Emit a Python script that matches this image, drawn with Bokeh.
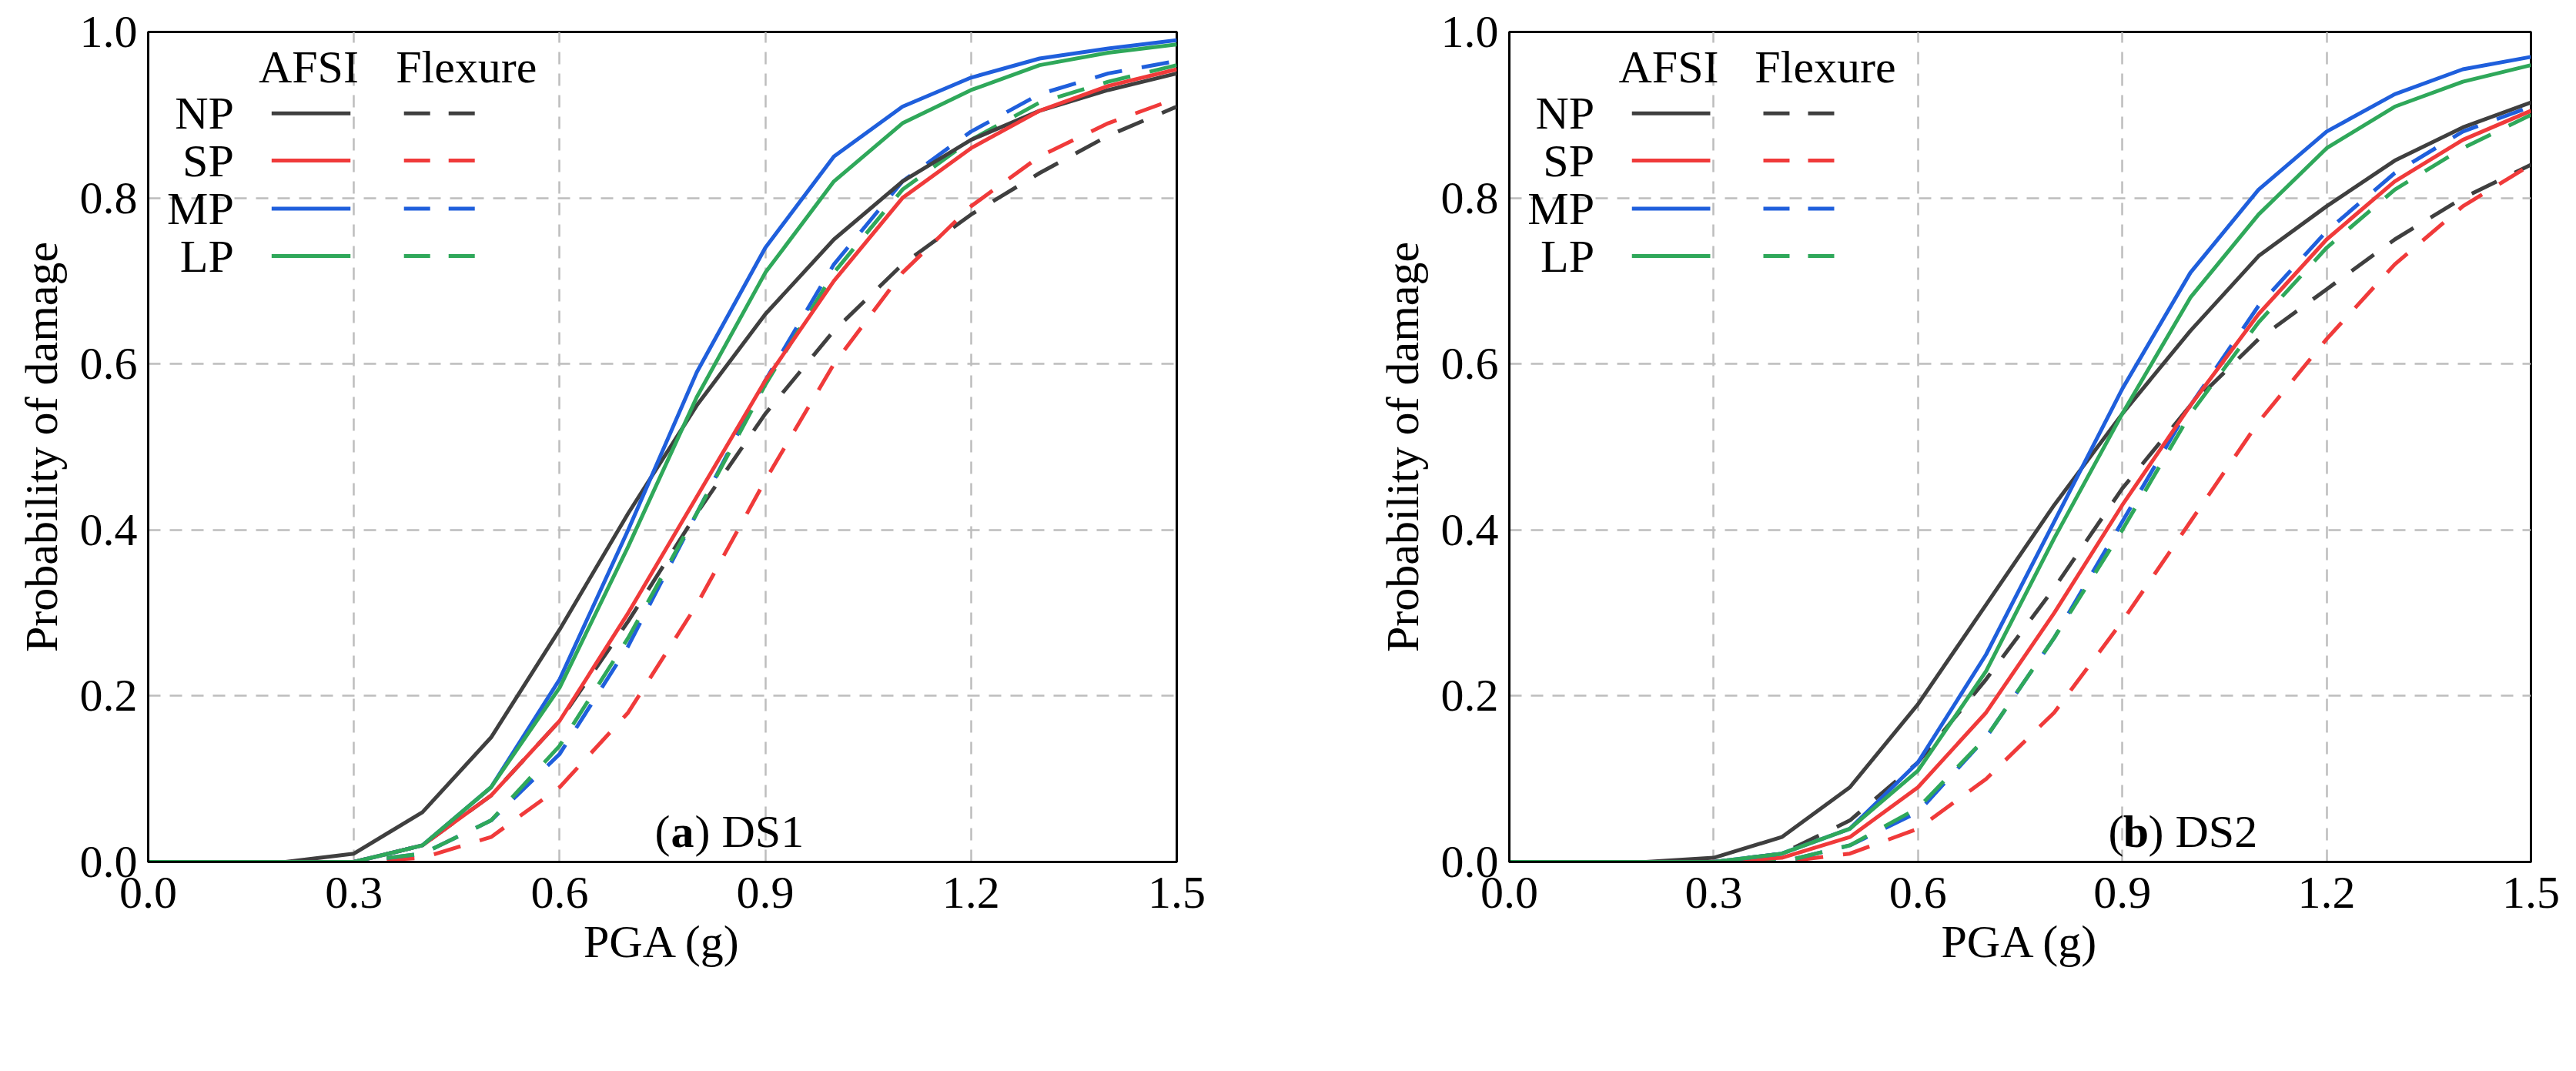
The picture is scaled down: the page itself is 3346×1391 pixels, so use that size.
from bokeh.plotting import figure
from bokeh.layouts import row
from bokeh.models import Label, FixedTicker, PrintfTickFormatter, Range1d
from bokeh.embed import file_html
from bokeh.resources import INLINE

pga = [0.0, 0.1, 0.2, 0.3, 0.4, 0.5, 0.6, 0.7, 0.8, 0.9, 1.0, 1.1, 1.2, 1.3, 1.4, 1.5]
series_names = ["NP", "SP", "MP", "LP"]
colors = ["#3f3f3f", "#f03a3a", "#1f5fdc", "#2fa85a"]

# Panel (a) DS1
a_afsi_np = [0, 0, 0.0, 0.01, 0.06, 0.15, 0.28, 0.42, 0.55, 0.66, 0.75, 0.82, 0.87, 0.905, 0.93, 0.95]
a_afsi_sp = [0, 0, 0, 0.0, 0.02, 0.08, 0.17, 0.30, 0.44, 0.58, 0.70, 0.80, 0.86, 0.905, 0.935, 0.955]
a_afsi_mp = [0, 0, 0, 0.0, 0.02, 0.09, 0.22, 0.40, 0.59, 0.74, 0.85, 0.91, 0.945, 0.968, 0.98, 0.99]
a_afsi_lp = [0, 0, 0, 0.0, 0.02, 0.09, 0.21, 0.38, 0.56, 0.71, 0.82, 0.89, 0.93, 0.96, 0.975, 0.985]
a_flex_np = [0, 0, 0, 0.0, 0.02, 0.08, 0.17, 0.29, 0.42, 0.54, 0.64, 0.72, 0.78, 0.83, 0.875, 0.91]
a_flex_sp = [0, 0, 0, 0.0, 0.005, 0.03, 0.09, 0.18, 0.31, 0.46, 0.60, 0.71, 0.79, 0.85, 0.89, 0.92]
a_flex_mp = [0, 0, 0, 0.0, 0.01, 0.05, 0.13, 0.26, 0.42, 0.58, 0.72, 0.82, 0.88, 0.925, 0.95, 0.965]
a_flex_lp = [0, 0, 0, 0.0, 0.01, 0.05, 0.14, 0.27, 0.42, 0.575, 0.71, 0.81, 0.87, 0.915, 0.94, 0.96]

# Panel (b) DS2
b_afsi_np = [0, 0, 0.0, 0.005, 0.03, 0.09, 0.19, 0.31, 0.43, 0.54, 0.64, 0.73, 0.79, 0.845, 0.885, 0.915]
b_afsi_sp = [0, 0, 0, 0.0, 0.005, 0.03, 0.09, 0.18, 0.30, 0.43, 0.55, 0.66, 0.75, 0.82, 0.87, 0.905]
b_afsi_mp = [0, 0, 0, 0.0, 0.01, 0.04, 0.12, 0.25, 0.41, 0.57, 0.71, 0.81, 0.88, 0.925, 0.955, 0.97]
b_afsi_lp = [0, 0, 0, 0.0, 0.01, 0.04, 0.11, 0.23, 0.39, 0.54, 0.68, 0.78, 0.86, 0.91, 0.94, 0.96]
b_flex_np = [0, 0, 0, 0.0, 0.01, 0.05, 0.12, 0.22, 0.33, 0.45, 0.55, 0.63, 0.69, 0.75, 0.80, 0.84]
b_flex_sp = [0, 0, 0, 0, 0.0, 0.01, 0.04, 0.10, 0.18, 0.29, 0.41, 0.53, 0.63, 0.72, 0.79, 0.84]
b_flex_mp = [0, 0, 0, 0, 0.0, 0.02, 0.06, 0.15, 0.27, 0.41, 0.55, 0.67, 0.76, 0.83, 0.88, 0.91]
b_flex_lp = [0, 0, 0, 0, 0.0, 0.02, 0.065, 0.15, 0.27, 0.40, 0.54, 0.65, 0.74, 0.81, 0.86, 0.90]

x_ticks = [0.0, 0.3, 0.6, 0.9, 1.2, 1.5]
y_ticks = [0.0, 0.2, 0.4, 0.6, 0.8, 1.0]

FONT = "Liberation Serif"
FS = "60px"
DASH = "36 26"


def make_panel(afsi, flex, letter, ds, width, left, right, cap_x):
    p = figure(width=width, height=1375, output_backend="svg", toolbar_location=None,
               x_range=Range1d(0, 1.5), y_range=Range1d(0, 1.0),
               min_border_left=left, min_border_right=right,
               min_border_top=41, min_border_bottom=256)
    p.background_fill_color = "white"
    p.outline_line_color = "black"
    p.outline_line_width = 3
    for ax in (p.xaxis[0], p.yaxis[0]):
        ax.major_label_text_font = FONT
        ax.major_label_text_font_size = FS
        ax.major_label_text_color = "black"
        ax.axis_label_text_font = FONT
        ax.axis_label_text_font_size = FS
        ax.axis_label_text_color = "black"
        ax.axis_label_text_font_style = "normal"
        ax.axis_line_color = "black"
        ax.axis_line_width = 3
        ax.major_tick_line_color = None
        ax.minor_tick_line_color = None
        ax.formatter = PrintfTickFormatter(format="%.1f")
    p.xaxis.ticker = FixedTicker(ticks=x_ticks)
    p.yaxis.ticker = FixedTicker(ticks=y_ticks)
    p.xaxis.axis_label = "PGA (g)"
    p.yaxis.axis_label = "Probability of damage"
    p.xaxis.major_label_standoff = 14
    p.yaxis.major_label_standoff = 8
    p.xaxis.axis_label_standoff = 8
    p.yaxis.axis_label_standoff = 14
    for g in (p.xgrid[0], p.ygrid[0]):
        g.grid_line_color = "#bdbdbd"
        g.grid_line_width = 2.5
        g.grid_line_dash = "16 12"

    for ys, c in zip(flex, colors):
        p.line(pga, ys, line_color=c, line_width=5, line_dash=DASH)
    for ys, c in zip(afsi, colors):
        p.line(pga, ys, line_color=c, line_width=5)

    # custom two-column legend
    rows_y = [0.902, 0.845, 0.787, 0.730]
    for name, c, yy in zip(series_names, colors, rows_y):
        p.add_layout(Label(x=0.125, y=yy, text=name, text_align="right", text_baseline="middle",
                           text_font=FONT, text_font_size=FS, text_color="black"))
        p.segment(x0=[0.18], y0=[yy], x1=[0.295], y1=[yy], line_color=c, line_width=5)
        p.segment(x0=[0.373], y0=[yy], x1=[0.49], y1=[yy], line_color=c, line_width=5, line_dash="34 24")
    p.add_layout(Label(x=0.234, y=0.958, text="AFSI", text_align="center", text_baseline="middle",
                       text_font=FONT, text_font_size=FS, text_color="black"))
    p.add_layout(Label(x=0.464, y=0.958, text="Flexure", text_align="center", text_baseline="middle",
                       text_font=FONT, text_font_size=FS, text_color="black"))

    # caption (screen units)
    cy = 40
    p.add_layout(Label(x=cap_x, y=cy, x_units="screen", y_units="screen", text=letter,
                       text_align="center", text_baseline="middle",
                       text_font=FONT, text_font_size=FS, text_font_style="bold", text_color="black"))
    p.add_layout(Label(x=cap_x - 16, y=cy, x_units="screen", y_units="screen", text="(",
                       text_align="right", text_baseline="middle",
                       text_font=FONT, text_font_size=FS, text_color="black"))
    p.add_layout(Label(x=cap_x + 16, y=cy, x_units="screen", y_units="screen", text=") " + ds,
                       text_align="left", text_baseline="middle",
                       text_font=FONT, text_font_size=FS, text_color="black"))
    return p


pa = make_panel([a_afsi_np, a_afsi_sp, a_afsi_mp, a_afsi_lp],
                [a_flex_np, a_flex_sp, a_flex_mp, a_flex_lp], "a", "DS1", 1650, 192, 122, 694)
pb = make_panel([b_afsi_np, b_afsi_sp, b_afsi_mp, b_afsi_lp],
                [b_flex_np, b_flex_sp, b_flex_mp, b_flex_lp], "b", "DS2", 1680, 310, 43, 814)

layout = row(pa, pb)
open("out.html", "w").write(file_html(layout, INLINE))
